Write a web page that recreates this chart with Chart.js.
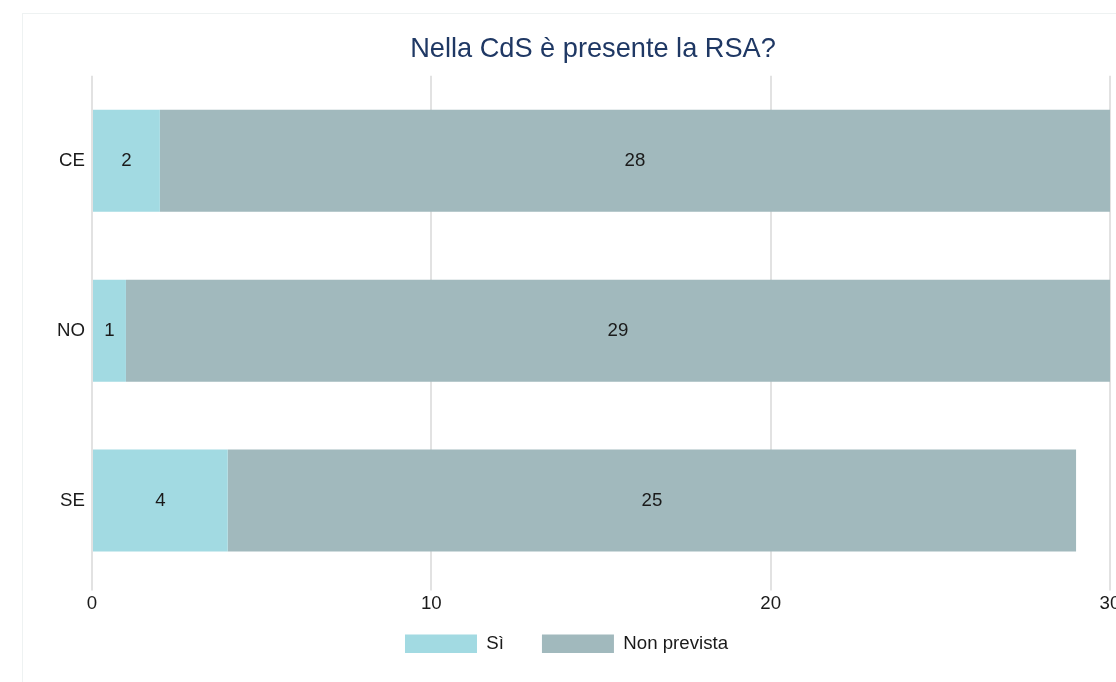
<!DOCTYPE html>
<html>
<head>
<meta charset="utf-8">
<script src="https://cdn.jsdelivr.net/npm/chart.js@4/dist/chart.umd.min.js"></script>
<style>
  html, body { margin: 0; padding: 0; background: #ffffff; overflow: hidden; width: 1116px; height: 682px; }
  #frame { position: absolute; left: 22px; top: 13px; width: 1200px; height: 800px; border: 1px solid #eef2f2; box-sizing: border-box; pointer-events: none; }
  #wrap { position: absolute; left: 0; top: 0; width: 1150px; height: 682px; }
</style>
</head>
<body>
<div id="frame"></div>
<div id="wrap"><canvas id="c" width="1150" height="682"></canvas></div>
<script>
const titleText = 'Nella CdS è presente la RSA?';
const categories = ['CE', 'NO', 'SE'];
const seriesNames = ['Sì', 'Non prevista'];
const valuesSi = [2, 1, 4];
const valuesNonPrevista = [28, 29, 25];
const xTicks = [0, 10, 20, 30];

const FONT = "'Liberation Sans', Arial, Helvetica, sans-serif";
const FS = 18.67;

const valueLabels = {
  id: 'valueLabels',
  afterDatasetsDraw(chart) {
    const ctx = chart.ctx;
    ctx.save();
    ctx.font = FS + 'px ' + FONT;
    ctx.fillStyle = '#1a1a1a';
    ctx.textAlign = 'center';
    ctx.textBaseline = 'middle';
    chart.data.datasets.forEach((ds, di) => {
      const meta = chart.getDatasetMeta(di);
      meta.data.forEach((el, i) => {
        const v = ds.data[i];
        if (!v) return;
        const p = el.getCenterPoint();
        ctx.fillText(String(v), p.x, p.y);
      });
    });
    ctx.restore();
  }
};

// horizontal / vertical nudges of the title and legend boxes after layout
const shiftBoxes = {
  id: 'shiftBoxes',
  afterLayout(chart) {
    if (chart.titleBlock) { chart.titleBlock.left += 38; chart.titleBlock.right += 38; }
    if (chart.legend) {
      chart.legend.left += 11.5; chart.legend.right += 11.5;
      chart.legend.top -= 20.5; chart.legend.bottom -= 20.5;
    }
  }
};

new Chart(document.getElementById('c'), {
  type: 'bar',
  data: {
    labels: categories,
    datasets: [
      { label: seriesNames[0], data: valuesSi, backgroundColor: '#a2dae2', borderWidth: 0, categoryPercentage: 1, barPercentage: 0.6 },
      { label: seriesNames[1], data: valuesNonPrevista, backgroundColor: '#a1b9bd', borderWidth: 0, categoryPercentage: 1, barPercentage: 0.6 }
    ]
  },
  plugins: [valueLabels, shiftBoxes],
  options: {
    indexAxis: 'y',
    responsive: false,
    animation: false,
    devicePixelRatio: 1,
    layout: { padding: { left: 0, right: 40, top: 0, bottom: -1.6 } },
    scales: {
      x: {
        stacked: true,
        min: 0, max: 30,
        afterBuildTicks(scale) { scale.ticks = xTicks.map(v => ({ value: v })); },
        grid: { color: '#e2e2e2', lineWidth: 2, tickLength: 5, drawTicks: true },
        border: { display: false },
        ticks: { color: '#1a1a1a', padding: 2, font: { family: FONT, size: FS } }
      },
      y: {
        stacked: true,
        afterFit(scale) { scale.width = 92; },
        grid: { display: false, drawTicks: false },
        border: { display: false },
        ticks: { color: '#1a1a1a', padding: 7, font: { family: FONT, size: FS } }
      }
    },
    plugins: {
      title: {
        display: true,
        text: titleText,
        color: '#1f3864',
        font: { family: FONT, size: 27.2, weight: 'normal' },
        padding: { top: 33.5, bottom: 9.7 }
      },
      legend: {
        display: true,
        position: 'bottom',
        labels: {
          boxWidth: 72,
          boxHeight: FS,
          padding: 38,
          color: '#1a1a1a',
          font: { family: FONT, size: FS }
        }
      },
      tooltip: { enabled: false }
    }
  }
});
</script>
</body>
</html>
